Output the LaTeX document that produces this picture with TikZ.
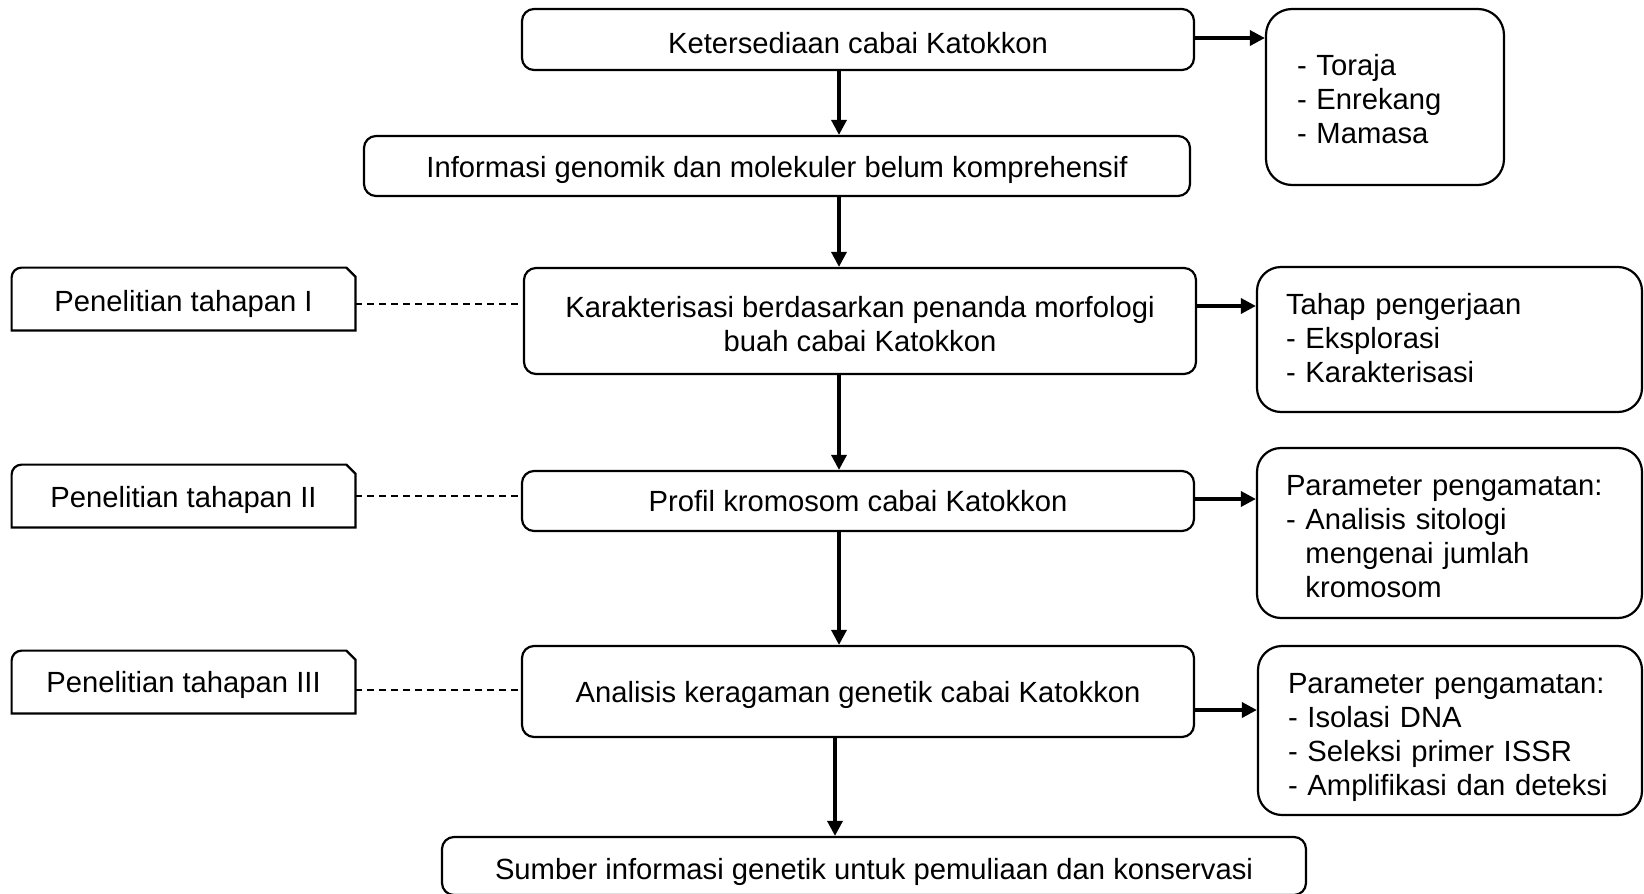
\documentclass[tikz,border=0pt]{standalone}
\usepackage{fontspec}
\setmainfont{Liberation Sans}
\usetikzlibrary{arrows.meta,calc}
\newcommand\fs{\fontsize{14.6}{17}\selectfont}
\newcommand\ind{\hphantom{-\ }}
% move a node's text down by #1 (strut on the first line)
\newcommand\dn[1]{\rule{0pt}{\dimexpr 10.6pt+#1+#1\relax}}
\tikzset{
  box/.style={draw, line width=1.1pt, rounded corners=6pt, align=center, inner sep=0pt, font=\fs},
  rbox/.style={draw, line width=1.1pt, rounded corners=12pt, align=left, inner ysep=0pt, font=\fs},
  lbox/.style={inner sep=0pt, align=center, font=\fs, minimum width=171.5pt, minimum height=31pt},
  lframe/.style={line width=1.1pt},
  arr/.style={-{Triangle[length=7.5pt,width=7.5pt]}, line width=1.7pt},
  dsh/.style={dashed, dash pattern=on 3.5pt off 2.5pt, line width=0.7pt}
}
\newcommand\drawlframe[1]{%
  \draw[lframe] (#1.south west) -- ($(#1.north west)+(0,-5pt)$)
    arc[start angle=180, end angle=90, radius=5pt]
    -- ($(#1.north east)+(-4.5pt,0)$) -- ($(#1.north east)+(0,-4.5pt)$)
    -- (#1.south east) -- cycle;}
\begin{document}
\begin{tikzpicture}[x=0.5pt, y=-0.5pt]
\useasboundingbox (0,0) rectangle (1644,894);

% main column
\node[box, minimum width=336pt, minimum height=30.5pt] (B1) at (858,39.5) {\dn{1.6pt}Ketersediaan cabai Katokkon};
\node[box, minimum width=413pt, minimum height=30pt] (B2) at (777,166) {\dn{2pt}Informasi genomik dan molekuler belum komprehensif};
\node[box, minimum width=336pt, minimum height=53pt] (B3) at (860,321) {\dn{1.3pt}Karakterisasi berdasarkan penanda morfologi\\buah cabai Katokkon};
\node[box, minimum width=336pt, minimum height=30pt] (B4) at (858,501) {Profil kromosom cabai Katokkon};
\node[box, minimum width=336pt, minimum height=45.5pt] (B5) at (858,691.5) {\dn{1.6pt}Analisis keragaman genetik cabai Katokkon};
\node[box, minimum width=432pt, minimum height=29pt] (B6) at (874,866) {\dn{3pt}Sumber informasi genetik untuk pemuliaan dan konservasi};

% right boxes
\node[rbox, rounded corners=13pt, minimum width=119pt, minimum height=88pt, inner xsep=15.5pt, text width=88pt] (R1) at (1385,97) {\dn{0.8pt}- Toraja\\- Enrekang\\- Mamasa};
\node[rbox, minimum width=192.5pt, minimum height=72.5pt, inner xsep=14.5pt, text width=163.5pt] (R3) at (1449.5,339.5) {Tahap pengerjaan\\- Eksplorasi\\- Karakterisasi\rule[-2pt]{0pt}{2pt}};
\node[rbox, minimum width=192.5pt, minimum height=85pt, inner xsep=14.5pt, text width=163.5pt] (R4) at (1449.5,533) {\dn{1.3pt}Parameter pengamatan:\\- Analisis sitologi\\\ind mengenai jumlah\\\ind kromosom};
\node[rbox, minimum width=192pt, minimum height=84.5pt, inner xsep=15pt, text width=162pt] (R5) at (1450,730.5) {\dn{3pt}Parameter pengamatan:\\- Isolasi DNA\\- Seleksi primer ISSR\\- Amplifikasi dan deteksi};

% left boxes
\node[lbox] (L1) at (183.5,299) {\dn{2.5pt}Penelitian tahapan I};
\node[lbox] (L2) at (183.5,496) {\dn{2pt}Penelitian tahapan II};
\node[lbox] (L3) at (183.5,682) {\dn{1.6pt}Penelitian tahapan III};
\drawlframe{L1}
\drawlframe{L2}
\drawlframe{L3}

% vertical arrows
\coordinate (xa) at (839,0);
\coordinate (xb) at (835,0);
\draw[arr] (B1.south -| xa) -- (B2.north -| xa);
\draw[arr] (B2.south -| xa) -- (B3.north -| xa);
\draw[arr] (B3.south -| xa) -- (B4.north -| xa);
\draw[arr] (B4.south -| xa) -- (B5.north -| xa);
\draw[arr] (B5.south -| xb) -- (B6.north -| xb);

% horizontal arrows
\coordinate (y1) at (0,38);
\coordinate (y3) at (0,306);
\coordinate (y4) at (0,499);
\coordinate (y5) at (0,710);
\draw[arr] (B1.east |- y1) -- (R1.west |- y1);
\draw[arr] (B3.east |- y3) -- (R3.west |- y3);
\draw[arr] (B4.east |- y4) -- (R4.west |- y4);
\draw[arr] (B5.east |- y5) -- (R5.west |- y5);

% dashed links
\coordinate (d1) at (0,304);
\coordinate (d2) at (0,496);
\coordinate (d3) at (0,690);
\draw[dsh] (L1.east |- d1) -- (B3.west |- d1);
\draw[dsh] (L2.east |- d2) -- (B4.west |- d2);
\draw[dsh] (L3.east |- d3) -- (B5.west |- d3);
\end{tikzpicture}
\end{document}
